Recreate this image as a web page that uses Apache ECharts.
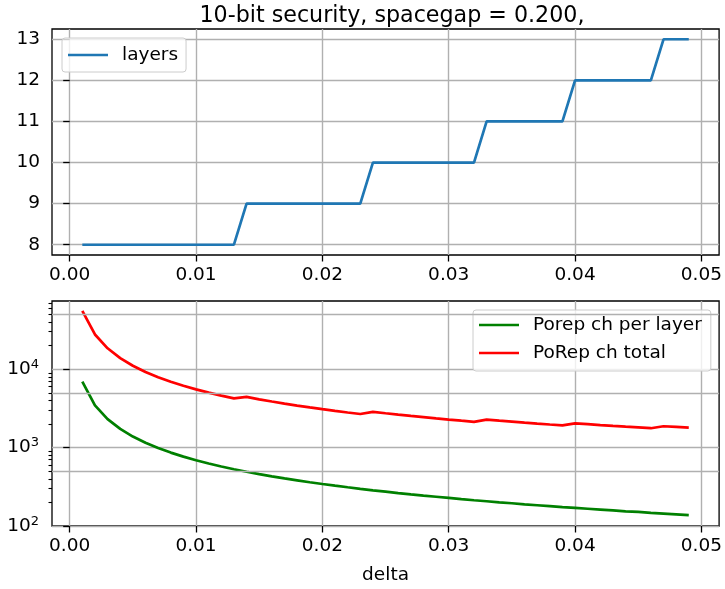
<!DOCTYPE html>
<html>
<head>
<meta charset="utf-8">
<script src="https://cdn.jsdelivr.net/npm/echarts@6/dist/echarts.min.js"></script>
<style>
html,body{margin:0;padding:0;background:#fff;}
#chart{width:725px;height:589px;}
</style>
</head>
<body>
<div id="chart"></div>
<script>
// ---- data ----
const titleText = '10-bit security, spacegap = 0.200,';
const xName = 'delta';
const deltas = [0.001,0.002,0.003,0.004,0.005,0.006,0.007,0.008,0.009,0.010,
  0.011,0.012,0.013,0.014,0.015,0.016,0.017,0.018,0.019,0.020,
  0.021,0.022,0.023,0.024,0.025,0.026,0.027,0.028,0.029,0.030,
  0.031,0.032,0.033,0.034,0.035,0.036,0.037,0.038,0.039,0.040,
  0.041,0.042,0.043,0.044,0.045,0.046,0.047,0.048,0.049];
const layers = [8,8,8,8,8,8,8,8,8,8,8,8,8,
  9,9,9,9,9,9,9,9,9,9,
  10,10,10,10,10,10,10,10,10,
  11,11,11,11,11,11,11,
  12,12,12,12,12,12,12,
  13,13,13];
const perLayer = [6928,3462,2307,1729,1383,1152,987,863,767,690,
  627,574,530,492,459,430,404,382,361,343,
  327,312,298,285,274,263,253,244,236,228,
  220,213,207,200,195,189,184,179,174,170,
  166,162,158,154,151,147,144,141,138];
const total = [55424,27696,18456,13832,11064,9216,7896,6904,6136,5520,
  5016,4592,4238,4424,4127,3867,3638,3434,3252,3088,
  2939,2804,2681,2853,2738,2631,2532,2441,2355,2276,
  2201,2131,2273,2204,2141,2079,2022,1968,1916,2038,
  1987,1938,1892,1848,1806,1766,1872,1832,1794];
const xTicks = [0, 0.01, 0.02, 0.03, 0.04, 0.05];
const xTickLabels = ['0.00','0.01','0.02','0.03','0.04','0.05'];
const yTopTicks = [8, 9, 10, 11, 12, 13];
const yLogTicks = [100, 1000, 10000];
const yLogMinorTicks = [200,300,400,500,600,700,800,900,2000,3000,4000,5000,6000,7000,8000,9000,20000,30000,40000,50000,60000,70000];
const yLogMinorGrid = [500, 5000, 50000];
const seriesNames = ['layers', 'Porep ch per layer', 'PoRep ch total'];

// ---- chart ----
const FONT = 'DejaVu Sans';
const FS = 18.5;
const GRIDC = '#b0b0b0';
const chart = echarts.init(document.getElementById('chart'), null, {renderer: 'canvas'});

function xAxisCfg(gi, withName) {
  return {
    type: 'value', gridIndex: gi, min: -0.0014, max: 0.0514,
    name: withName ? xName : '', nameLocation: 'middle', nameGap: 40,
    nameTextStyle: {fontFamily: FONT, fontSize: FS, color: '#000'},
    axisLine: {show: false},
    axisTick: {show: true, length: 6.5, lineStyle: {color: '#000', width: 1.3}, customValues: xTicks},
    axisLabel: {show: true, margin: 11, fontFamily: FONT, fontSize: FS, color: '#000',
      customValues: xTicks,
      formatter: v => { const i = xTicks.findIndex(t => Math.abs(t - v) < 1e-9); return i >= 0 ? xTickLabels[i] : ''; }},
    splitLine: {show: true, lineStyle: {color: GRIDC, width: 1.4}}
  };
}

const legendCommon = {
  orient: 'vertical', icon: 'rect', itemWidth: 40, itemHeight: 2.7, itemGap: 8,
  backgroundColor: 'rgba(255,255,255,0.8)',
  borderColor: '#cccccc', borderWidth: 1, borderRadius: 3,
  textStyle: {fontFamily: FONT, fontSize: FS, color: '#000', lineHeight: 20, padding: [0,0,0,9]}
};

const option = {
  animation: false,
  backgroundColor: '#fff',
  title: {
    text: titleText, left: 387, top: 0, textAlign: 'center',
    textStyle: {fontFamily: FONT, fontSize: 22.2, fontWeight: 'normal', color: '#000'}
  },
  grid: [
    {left: 52, top: 29, width: 668, height: 226, show: true, borderColor: '#000', borderWidth: 1.3, backgroundColor: 'transparent'},
    {left: 52, top: 301, width: 668, height: 225, show: true, borderColor: '#000', borderWidth: 1.3, backgroundColor: 'transparent'}
  ],
  legend: [
    Object.assign({}, legendCommon, {data: [seriesNames[0]], left: 62, top: 38, padding: [7, 8, 7, 6]}),
    Object.assign({}, legendCommon, {data: [seriesNames[1], seriesNames[2]], left: 473, top: 310, padding: [5, 9, 8, 6]})
  ],
  xAxis: [xAxisCfg(0, false), xAxisCfg(1, true)],
  yAxis: [
    {
      type: 'value', gridIndex: 0, min: 7.75, max: 13.25,
      axisLine: {show: false},
      axisTick: {show: true, length: 6.5, lineStyle: {color: '#000', width: 1.3}, customValues: yTopTicks},
      axisLabel: {margin: 12, fontFamily: FONT, fontSize: FS, color: '#000', customValues: yTopTicks},
      splitLine: {show: true, lineStyle: {color: GRIDC, width: 1.4}}
    },
    {
      type: 'log', logBase: 10, gridIndex: 1, min: 100, max: 74000, position: 'left',
      axisLine: {show: false},
      axisTick: {show: true, length: 6.5, lineStyle: {color: '#000', width: 1.3}, customValues: yLogTicks},
      axisLabel: {margin: 13, fontFamily: FONT, fontSize: FS, color: '#000', customValues: yLogTicks,
        formatter: v => '10{s|' + Math.round(Math.log10(v)) + '}',
        rich: {s: {fontFamily: FONT, fontSize: 13, color: '#000', padding: [0, 0, 9, 0]}}},
      splitLine: {show: true, lineStyle: {color: GRIDC, width: 1.4}}
    },
    {
      type: 'log', logBase: 10, gridIndex: 1, min: 100, max: 74000, position: 'left',
      axisLine: {show: false},
      axisTick: {show: true, length: 3.5, lineStyle: {color: '#000', width: 1.1}, customValues: yLogMinorTicks},
      axisLabel: {show: false},
      splitLine: {show: false}
    }
  ],
  series: [
    {
      name: seriesNames[0], type: 'line', xAxisIndex: 0, yAxisIndex: 0,
      data: deltas.map((d, i) => [d, layers[i]]),
      showSymbol: false, symbol: 'none', color: '#1f77b4',
      lineStyle: {width: 2.7, color: '#1f77b4'}, z: 3
    },
    {
      name: '_minorgrid', type: 'line', xAxisIndex: 1, yAxisIndex: 1, data: [], z: 1,
      markLine: {
        silent: true, symbol: ['none', 'none'], label: {show: false},
        lineStyle: {color: GRIDC, width: 1.4, type: 'solid'},
        emphasis: {disabled: true},
        data: yLogMinorGrid.map(v => ({yAxis: v}))
      }
    },
    {
      name: seriesNames[1], type: 'line', xAxisIndex: 1, yAxisIndex: 1,
      data: deltas.map((d, i) => [d, perLayer[i]]),
      showSymbol: false, symbol: 'none', color: '#008000',
      lineStyle: {width: 2.7, color: '#008000'}, z: 3
    },
    {
      name: seriesNames[2], type: 'line', xAxisIndex: 1, yAxisIndex: 1,
      data: deltas.map((d, i) => [d, total[i]]),
      showSymbol: false, symbol: 'none', color: '#ff0000',
      lineStyle: {width: 2.7, color: '#ff0000'}, z: 3
    }
  ]
};
chart.setOption(option);
</script>
</body>
</html>
